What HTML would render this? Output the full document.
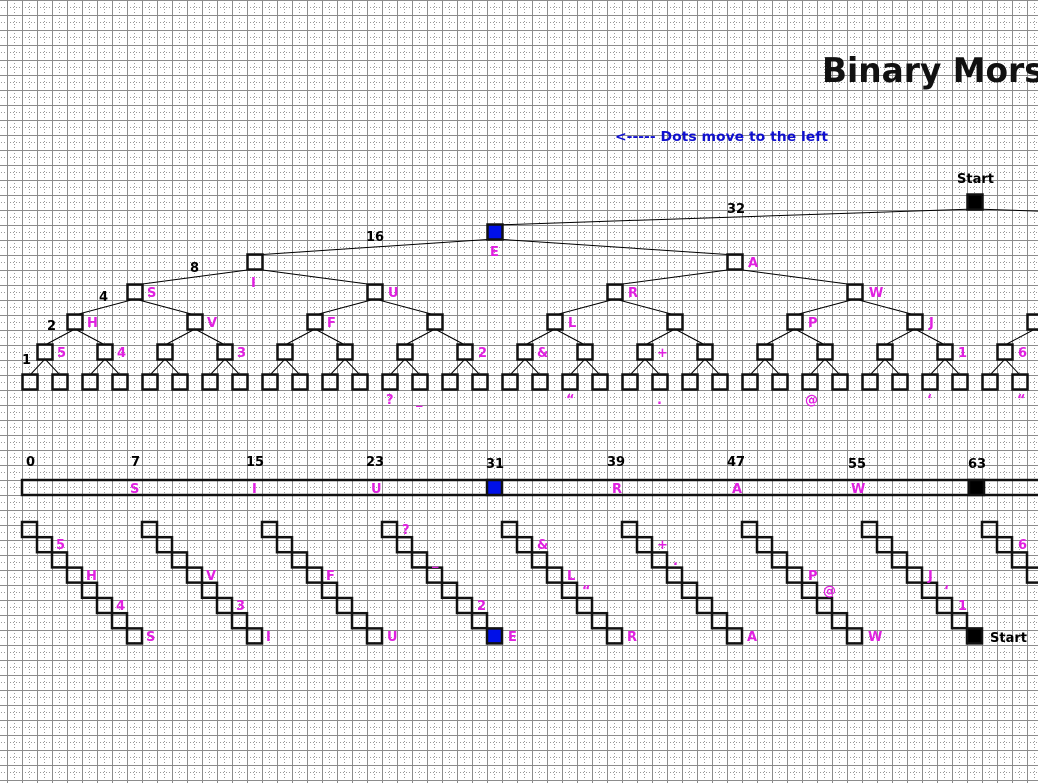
<!DOCTYPE html>
<html><head><meta charset="utf-8"><style>
html,body{margin:0;padding:0;background:#fff;}
svg{display:block}
.m{fill:#e020e0;font:bold 13px "DejaVu Sans","Liberation Sans",sans-serif}
.k{fill:#000;font:bold 13px "DejaVu Sans","Liberation Sans",sans-serif}
</style></head><body>
<svg id="s" width="1038" height="783" xmlns="http://www.w3.org/2000/svg">
<defs>
<pattern id="g" x="7" y="0" width="15" height="15" patternUnits="userSpaceOnUse">
<line x1="7.5" y1="0" x2="7.5" y2="15" stroke="#999" stroke-width="1" stroke-dasharray="1,2"/>
<line x1="0" y1="7.5" x2="15" y2="7.5" stroke="#999" stroke-width="1" stroke-dasharray="1,2"/>
<line x1="0.5" y1="0" x2="0.5" y2="15" stroke="#8c8c8c" stroke-width="1"/>
<line x1="0" y1="0.5" x2="15" y2="0.5" stroke="#8c8c8c" stroke-width="1"/>
</pattern>
</defs>
<rect width="1038" height="783" fill="#fff"/>
<rect width="1038" height="783" fill="url(#g)"/>
<g id="lines" stroke="#000" stroke-width="1"></g>
<g id="boxes" fill="none" stroke="#111" stroke-width="2.5"></g>

<text x="822" y="82" textLength="244" lengthAdjust="spacingAndGlyphs" style="font:bold 34px 'DejaVu Sans','Liberation Sans',sans-serif" fill="#111">Binary Morse</text>
<text x="615" y="141" textLength="213" lengthAdjust="spacingAndGlyphs" style="font:bold 13px 'DejaVu Sans','Liberation Sans',sans-serif" fill="#1010d0">&lt;----- Dots move to the left</text>
<text class="k" x="957" y="183">Start</text>

<text class="k" x="727" y="213">32</text>
<text class="k" x="366" y="241">16</text>
<text class="k" x="190" y="272">8</text>
<text class="k" x="99" y="301">4</text>
<text class="k" x="47" y="330">2</text>
<text class="k" x="22" y="364">1</text>

<text class="m" x="490" y="256">E</text>
<text class="m" x="251" y="287">I</text>
<text class="m" x="748" y="267">A</text>
<text class="m" x="147" y="297">S</text>
<text class="m" x="388" y="297">U</text>
<text class="m" x="628" y="297">R</text>
<text class="m" x="869" y="297">W</text>
<text class="m" x="87" y="327">H</text>
<text class="m" x="207" y="327">V</text>
<text class="m" x="327" y="327">F</text>
<text class="m" x="568" y="327">L</text>
<text class="m" x="808" y="327">P</text>
<text class="m" x="929" y="327">J</text>
<text class="m" x="57" y="357">5</text>
<text class="m" x="117" y="357">4</text>
<text class="m" x="237" y="357">3</text>
<text class="m" x="478" y="357">2</text>
<text class="m" x="537" y="357">&amp;</text>
<text class="m" x="657" y="357">+</text>
<text class="m" x="958" y="357">1</text>
<text class="m" x="1018" y="357">6</text>
<text class="m" x="386" y="404">?</text>
<text class="m" x="416" y="404">_</text>
<text class="m" x="566" y="404">“</text>
<text class="m" x="657" y="404">.</text>
<text class="m" x="805" y="404">@</text>
<text class="m" x="927" y="404">‘</text>
<text class="m" x="1017" y="404">“</text>

<text class="k" x="26" y="466">0</text>
<text class="k" x="131" y="466">7</text>
<text class="k" x="246" y="466">15</text>
<text class="k" x="366" y="466">23</text>
<text class="k" x="486" y="468">31</text>
<text class="k" x="607" y="466">39</text>
<text class="k" x="727" y="466">47</text>
<text class="k" x="848" y="468">55</text>
<text class="k" x="968" y="468">63</text>
<text class="m" x="130" y="493">S</text>
<text class="m" x="252" y="493">I</text>
<text class="m" x="371" y="493">U</text>
<text class="m" x="612" y="493">R</text>
<text class="m" x="732" y="493">A</text>
<text class="m" x="851" y="493">W</text>

<text class="m" x="56" y="549">5</text>
<text class="m" x="86" y="580">H</text>
<text class="m" x="116" y="610">4</text>
<text class="m" x="146" y="641">S</text>
<text class="m" x="206" y="580">V</text>
<text class="m" x="236" y="610">3</text>
<text class="m" x="266" y="641">I</text>
<text class="m" x="326" y="580">F</text>
<text class="m" x="387" y="641">U</text>
<text class="m" x="402" y="534">?</text>
<text class="m" x="432" y="565">_</text>
<text class="m" x="477" y="610">2</text>
<text class="m" x="508" y="641">E</text>
<text class="m" x="537" y="549">&amp;</text>
<text class="m" x="567" y="580">L</text>
<text class="m" x="582" y="595">“</text>
<text class="m" x="627" y="641">R</text>
<text class="m" x="657" y="549">+</text>
<text class="m" x="673" y="565">.</text>
<text class="m" x="747" y="641">A</text>
<text class="m" x="808" y="580">P</text>
<text class="m" x="823" y="595">@</text>
<text class="m" x="868" y="641">W</text>
<text class="m" x="928" y="580">J</text>
<text class="m" x="944" y="595">‘</text>
<text class="m" x="958" y="610">1</text>
<text class="k" x="990" y="642">Start</text>
<text class="m" x="1018" y="549">6</text>
</svg>
<script>
var NS="http://www.w3.org/2000/svg";
var L=document.getElementById("lines"),B=document.getElementById("boxes");
function el(p,t,a){var e=document.createElementNS(NS,t);for(var k in a)e.setAttribute(k,a[k]);p.appendChild(e);return e;}
function X(i){return 30+15*i;}
function Y(d){return 202+30*d;}
var nodes=[];
function build(i,d,half){
  nodes.push({i:i,d:d});
  if(d<6){
    [i-half,i+half].forEach(function(ci){
      el(L,"line",{x1:X(i),y1:Y(d)+7,x2:X(ci),y2:Y(d+1)-7});
      build(ci,d+1,half/2);
    });
  }
}
build(63,0,32);
nodes.forEach(function(n){
  var x=X(n.i),y=Y(n.d);
  if(x<-20||x>1060)return;
  var f="none";
  if(n.i==31)f="#0010e8";
  if(n.i==63)f="#000";
  el(B,"rect",{x:x-7.5,y:y-7.5,width:15,height:15,fill:f});
});
el(B,"rect",{x:22,y:480,width:1030,height:15,fill:"none"});
el(B,"rect",{x:487,y:480,width:15,height:15,fill:"#0010e8"});
el(B,"rect",{x:969,y:480,width:15,height:15,fill:"#000"});
for(var j=0;j<72;j++){
  var x=22+15*j,y=522+15.2*(j%8);
  if(x>1040)break;
  var f="none";
  if(j==31)f="#0010e8";
  if(j==63)f="#000";
  el(B,"rect",{x:x,y:y,width:15,height:15,fill:f});
}
</script>
</body></html>
